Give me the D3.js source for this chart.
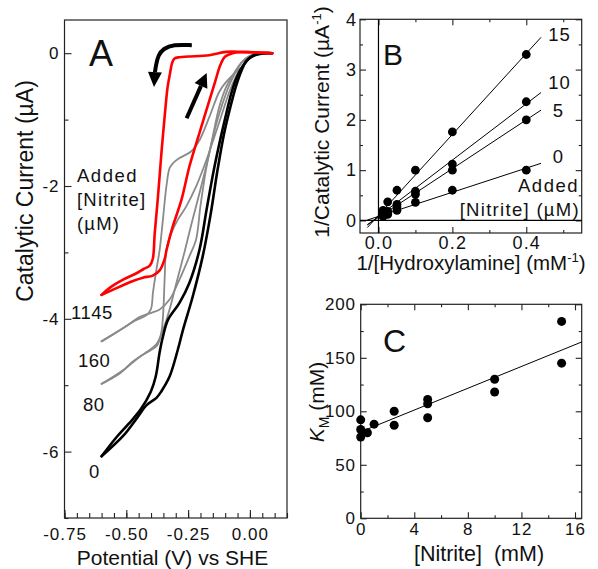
<!DOCTYPE html>
<html>
<head>
<meta charset="utf-8">
<script src="https://cdn.jsdelivr.net/npm/d3@7"></script>
<style>
  body { margin: 0; background: #fff; }
  svg { display: block; font-family: "Liberation Sans", Arial, sans-serif; }
  text { fill: #111; }
</style>
</head>
<body>
<svg id="fig" width="598" height="569"></svg>
<script>
// ---------- Panel A: cyclic voltammograms [potential (V), current (uA)] ----------
const cv0Cathodic = [[0.09,0],[0.04,-0.01],[0.0,-0.07],[-0.03,-0.2],[-0.052,-0.35],[-0.075,-0.6],[-0.095,-0.9],
  [-0.12,-1.3],[-0.146,-1.76],[-0.175,-2.35],[-0.204,-2.96],[-0.245,-3.46],[-0.285,-3.76],[-0.332,-4.02],
  [-0.352,-4.27],[-0.365,-4.5],[-0.381,-4.87],[-0.401,-5.1],[-0.441,-5.36],[-0.49,-5.58],[-0.539,-5.78],[-0.6,-6.07]];
const cv0Anodic = [[-0.6,-6.07],[-0.512,-5.76],[-0.458,-5.5],[-0.418,-5.3],[-0.378,-5.19],[-0.358,-5.09],
  [-0.325,-4.87],[-0.292,-4.47],[-0.271,-4.17],[-0.231,-3.66],[-0.191,-3.06],[-0.16,-2.45],[-0.131,-1.76],
  [-0.105,-1.22],[-0.077,-0.78],[-0.055,-0.48],[-0.035,-0.27],[-0.015,-0.12],[0.01,-0.04],[0.05,0],[0.09,0]];
const cv80Cathodic = [[0.09,0],[0.04,-0.01],[0.0,-0.07],[-0.03,-0.2],[-0.052,-0.32],[-0.08,-0.55],[-0.104,-0.81],
  [-0.125,-1.05],[-0.144,-1.26],[-0.18,-1.65],[-0.218,-2.01],[-0.258,-2.31],[-0.292,-2.51],[-0.318,-2.71],
  [-0.338,-2.96],[-0.345,-3.4],[-0.35,-3.86],[-0.358,-4.2],[-0.375,-4.4],[-0.4,-4.47],[-0.445,-4.57],
  [-0.512,-4.77],[-0.6,-4.98]];
const cv80Anodic = [[-0.6,-4.98],[-0.525,-4.82],[-0.472,-4.64],[-0.418,-4.5],[-0.378,-4.38],[-0.35,-4.15],
  [-0.325,-3.86],[-0.3,-3.5],[-0.265,-3.0],[-0.235,-2.55],[-0.2,-2.05],[-0.17,-1.6],[-0.14,-1.12],
  [-0.11,-0.75],[-0.08,-0.45],[-0.055,-0.27],[-0.03,-0.13],[0.0,-0.04],[0.05,0],[0.09,0]];
const cv160Cathodic = [[0.09,0],[0.04,-0.01],[0.0,-0.07],[-0.03,-0.2],[-0.07,-0.33],[-0.1,-0.45],[-0.124,-0.58],
  [-0.164,-0.96],[-0.204,-1.31],[-0.238,-1.48],[-0.285,-1.58],[-0.312,-1.66],[-0.325,-1.73],[-0.338,-2.01],
  [-0.352,-2.51],[-0.365,-2.96],[-0.38,-3.3],[-0.392,-3.6],[-0.4,-3.85],[-0.417,-3.94],[-0.465,-4.03],
  [-0.525,-4.17],[-0.6,-4.34]];
const cv160Anodic = [[-0.6,-4.34],[-0.512,-4.14],[-0.445,-3.97],[-0.398,-3.91],[-0.365,-3.86],[-0.325,-3.71],
  [-0.285,-3.41],[-0.245,-3.06],[-0.218,-2.81],[-0.2,-2.3],[-0.178,-1.76],[-0.15,-1.25],[-0.124,-0.81],
  [-0.095,-0.5],[-0.064,-0.3],[-0.035,-0.14],[0.0,-0.04],[0.05,0],[0.09,0]];
const cv1145Cathodic = [[0.09,0],[0.05,0.005],[-0.03,0.02],[-0.097,0.02],[-0.164,-0.03],[-0.25,-0.05],
  [-0.285,-0.06],[-0.305,-0.08],[-0.315,-0.15],[-0.323,-0.3],[-0.333,-0.51],[-0.345,-0.96],[-0.357,-1.46],
  [-0.373,-2.21],[-0.385,-2.71],[-0.393,-3.1],[-0.405,-3.2],[-0.43,-3.25],[-0.457,-3.31],[-0.513,-3.41],
  [-0.566,-3.53],[-0.6,-3.64]];
const cv1145Anodic = [[-0.6,-3.64],[-0.553,-3.56],[-0.473,-3.43],[-0.433,-3.38],[-0.393,-3.35],[-0.365,-3.27],
  [-0.345,-3.1],[-0.337,-2.96],[-0.313,-2.62],[-0.277,-2.21],[-0.245,-1.71],[-0.204,-1.2],[-0.172,-0.81],
  [-0.14,-0.42],[-0.12,-0.18],[-0.1,-0.05],[-0.07,0.0],[-0.03,0.015],[0.02,0.015],[0.09,0]];
const nitriteAdded = ["0", "80", "160", "1145"];          // uM
const aXTicks = [-0.75, -0.5, -0.25, 0];
const aYTicks = [0, -2, -4, -6];
const scanArrowCurved = [[-0.235,0.12],[-0.31,0.13],[-0.35,0.07],[-0.371,-0.03],[-0.38,-0.18],[-0.384,-0.28],[-0.388,-0.51]];
const scanArrowStraight = [[-0.256,-0.98],[-0.175,-0.30]];

// ---------- Panel B: double reciprocal plot ----------
const invHydroxylamine = [0.4, 0.2, 0.1, 0.05, 0.025, 0.0125];   // 1/mM
const bNitrite = ["0", "5", "10", "15"];                          // label per series
const invCurrent0  = [1.0, 0.6, 0.36, 0.2, 0.12, 0.08];
const invCurrent5  = [2.0, 1.0, 0.52, 0.27, 0.15, 0.1];
const invCurrent10 = [2.36, 1.12, 0.58, 0.32, 0.18, 0.14];
const invCurrent15 = [3.3, 1.76, 1.0, 0.6, 0.37, 0.2];
const bSlope = [2.4, 4.85, 5.6, 8.05];
const bIntercept = [0.08, 0.06, 0.08, 0.1];
const bXTicks = [0, 0.2, 0.4];
const bYTicks = [0, 1, 2, 3, 4];

// ---------- Panel C: KM vs nitrite ----------
const cNitrite = [0, 0, 0, 0.5, 1, 2.5, 2.5, 5, 5, 5, 10, 10, 15, 15];       // mM
const cKM = [92, 83, 76, 80, 88, 100, 87, 111, 107, 94, 130, 118, 184, 145];  // mM
const cSlope = 5.09, cIntercept = 80.8;
const cXTicks = [0, 4, 8, 12, 16];
const cYTicks = [0, 50, 100, 150, 200];

const SVG = d3.select("#fig");
const INK = "#222";

function frame(x, y) {
  SVG.append("rect")
    .attr("x", x.range()[0]).attr("y", y.range()[1])
    .attr("width", x.range()[1] - x.range()[0]).attr("height", y.range()[0] - y.range()[1])
    .attr("fill", "none").attr("stroke", INK).attr("stroke-width", 1.2);
}

function axis(gen, tr, size, spacing) {
  const g = SVG.append("g").attr("transform", tr).call(gen);
  g.select(".domain").remove();
  g.attr("font-family", null).attr("font-size", null);
  g.selectAll("line").attr("stroke", INK).attr("stroke-width", 1.1);
  g.selectAll("text").style("font-size", size + "px").style("letter-spacing", spacing + "px").attr("fill", "#111");
  return g;
}

function label(x, y, str, size, anchor, spacing) {
  return SVG.append("text").attr("x", x).attr("y", y)
    .attr("text-anchor", anchor || "start")
    .style("font-size", size + "px")
    .style("letter-spacing", (spacing || 0) + "px")
    .text(str);
}

// ===================== Panel A =====================
const xA = d3.scaleLinear().domain([-0.75, 0.15]).range([64.5, 287]);
const yA = d3.scaleLinear().domain([-7, 0.5]).range([518, 20]);
const bottomA = yA.range()[0], leftA = xA.range()[0];

axis(d3.axisBottom(xA).tickValues(d3.range(-15, 4).map(i => i * 0.05)).tickSize(-5).tickFormat(""), `translate(0,${bottomA})`);
axis(d3.axisBottom(xA).tickValues(aXTicks).tickSize(-8).tickPadding(10).tickFormat(d => d.toFixed(2)), `translate(0,${bottomA})`, 17, 1);
axis(d3.axisLeft(yA).tickValues([-7, -5, -3, -1]).tickSize(-4).tickFormat(""), `translate(${leftA},0)`);
axis(d3.axisLeft(yA).tickValues(aYTicks).tickSize(-7).tickPadding(5).tickFormat(d => String(d)), `translate(${leftA},0)`, 17, 1);
frame(xA, yA);

const lineA = d3.line().x(d => xA(d[0])).y(d => yA(d[1])).curve(d3.curveCatmullRom.alpha(0.5));
const cvs = [
  { pts: cv80Cathodic, color: "#8a8a8a", w: 1.8 },
  { pts: cv80Anodic, color: "#8a8a8a", w: 1.8 },
  { pts: cv160Cathodic, color: "#8a8a8a", w: 1.8 },
  { pts: cv160Anodic, color: "#8a8a8a", w: 1.8 },
  { pts: cv0Cathodic, color: "#000", w: 2.6 },
  { pts: cv0Anodic, color: "#000", w: 2.6 },
  { pts: cv1145Cathodic, color: "#ff0000", w: 2.6 },
  { pts: cv1145Anodic, color: "#ff0000", w: 2.6 }
];
SVG.append("g").selectAll("path").data(cvs).join("path")
  .attr("d", d => lineA(d.pts))
  .attr("fill", "none").attr("stroke", d => d.color).attr("stroke-width", d => d.w)
  .attr("stroke-linejoin", "round").attr("stroke-linecap", "round");

// scan direction arrows
function arrow(pts, headLen, headW) {
  const px = pts.map(p => [xA(p[0]), yA(p[1])]);
  const tip = px[px.length - 1], prev = px[px.length - 2];
  const dx = tip[0] - prev[0], dy = tip[1] - prev[1], L = Math.hypot(dx, dy);
  const ux = dx / L, uy = dy / L;
  const base = [tip[0] - ux * headLen, tip[1] - uy * headLen];
  const shaft = px.slice(0, -1).concat([base]);
  SVG.append("path").attr("d", d3.line().curve(d3.curveBasis)(shaft))
    .attr("fill", "none").attr("stroke", "#000").attr("stroke-width", 4);
  SVG.append("path")
    .attr("d", `M${tip[0]},${tip[1]}L${base[0] - uy * headW / 2},${base[1] + ux * headW / 2}L${base[0] + uy * headW / 2},${base[1] - ux * headW / 2}Z`)
    .attr("fill", "#000");
}
arrow(scanArrowCurved, 15, 14);
arrow(scanArrowStraight, 14, 14);

label(89, 66, "A", 36);
label(77, 182, "Added", 18.5, "start", 1.5);
label(77, 206, "[Nitrite]", 18.5, "start", 1.2);
label(77, 230, "(\u00b5M)", 18.5, "start", 1.2);
const curveLabelPos = [[89, 478], [83, 411], [78, 367], [71, 319]];
nitriteAdded.forEach((n, i) => label(curveLabelPos[i][0], curveLabelPos[i][1], n, 18.5, "start", 0.5));
label(172.5, 565, "Potential (V) vs SHE", 21, "middle");
SVG.append("text").attr("transform", "translate(33,191) rotate(-90)").attr("text-anchor", "middle")
  .style("font-size", "23px").text("Catalytic Current (\u00b5A)");

// ===================== Panel B =====================
const xB = d3.scaleLinear().domain([-0.05, 0.55]).range([360, 581.7]);
const yB = d3.scaleLinear().domain([-0.25, 4]).range([233, 19.3]);
const bx0 = xB.range()[0], bx1 = xB.range()[1], by0 = yB.range()[0], by1 = yB.range()[1];

axis(d3.axisBottom(xB).tickValues([0.1, 0.3, 0.5]).tickSize(-3).tickFormat(""), `translate(0,${by0})`);
axis(d3.axisBottom(xB).tickValues(bXTicks).tickSize(-6).tickPadding(3).tickFormat(d => d.toFixed(1)), `translate(0,${by0})`, 18, 1.2);
axis(d3.axisTop(xB).tickValues([0.1, 0.3, 0.5]).tickSize(-3).tickFormat(""), `translate(0,${by1})`);
axis(d3.axisTop(xB).tickValues(bXTicks).tickSize(-6).tickFormat(""), `translate(0,${by1})`);
axis(d3.axisLeft(yB).tickValues([0.5, 1.5, 2.5, 3.5]).tickSize(-3).tickFormat(""), `translate(${bx0},0)`);
axis(d3.axisLeft(yB).tickValues(bYTicks).tickSize(-6).tickPadding(3).tickFormat(d => String(d)), `translate(${bx0},0)`, 18, 1);
axis(d3.axisRight(yB).tickValues([0.5, 1.5, 2.5, 3.5]).tickSize(-3).tickFormat(""), `translate(${bx1},0)`);
axis(d3.axisRight(yB).tickValues(bYTicks).tickSize(-6).tickFormat(""), `translate(${bx1},0)`);
frame(xB, yB);

// zero lines
SVG.append("line").attr("x1", xB(0)).attr("x2", xB(0)).attr("y1", by1).attr("y2", by0).attr("stroke", "#000").attr("stroke-width", 1.2);
SVG.append("line").attr("x1", bx0).attr("x2", bx1).attr("y1", yB(0)).attr("y2", yB(0)).attr("stroke", "#000").attr("stroke-width", 1.2);

const bSeries = [invCurrent0, invCurrent5, invCurrent10, invCurrent15];
bSeries.forEach((ys, i) => {
  const fit = [-0.03, 0.44].map(x => [x, bIntercept[i] + bSlope[i] * x]);
  SVG.append("line")
    .attr("x1", xB(fit[0][0])).attr("y1", yB(fit[0][1]))
    .attr("x2", xB(fit[1][0])).attr("y2", yB(fit[1][1]))
    .attr("stroke", "#000").attr("stroke-width", 1);
});
bSeries.forEach(ys => {
  SVG.append("g").selectAll("circle").data(ys).join("circle")
    .attr("cx", (d, j) => xB(invHydroxylamine[j])).attr("cy", d => yB(d))
    .attr("r", 4.4).attr("fill", "#000");
});
const bLabelPos = [[552.7, 163.3], [552.7, 116.7], [548.3, 89.3], [548.3, 40.7]];
bNitrite.forEach((n, i) => label(bLabelPos[i][0], bLabelPos[i][1], n, 18.5, "start", 1));
label(579, 191.5, "Added", 18.5, "end", 1.5);
label(580, 216, "[Nitrite] (\u00b5M)", 18.5, "end", 1.3);
label(383, 65, "B", 30);

const bxl = SVG.append("text").attr("x", 471).attr("y", 270).attr("text-anchor", "middle").style("font-size", "20.5px");
bxl.append("tspan").text("1/[Hydroxylamine] (mM");
bxl.append("tspan").attr("dy", -8).style("font-size", "13px").text("-1");
bxl.append("tspan").attr("dy", 8).text(")");

const byl = SVG.append("text").attr("transform", "translate(329,122) rotate(-90)").attr("text-anchor", "middle").style("font-size", "21px");
byl.append("tspan").text("1/Catalytic Current (\u00b5A");
byl.append("tspan").attr("dy", -8).style("font-size", "13px").text("-1");
byl.append("tspan").attr("dy", 8).text(")");

// ===================== Panel C =====================
const xC = d3.scaleLinear().domain([0, 16.5]).range([360.7, 581.7]);
const yC = d3.scaleLinear().domain([0, 200]).range([518.3, 304.3]);
const cx0 = xC.range()[0], cx1 = xC.range()[1], cy0 = yC.range()[0], cy1 = yC.range()[1];
const cMinorX = [2, 6, 10, 14], cMinorY = [25, 75, 125, 175];

axis(d3.axisBottom(xC).tickValues(cMinorX).tickSize(-3).tickFormat(""), `translate(0,${cy0})`);
axis(d3.axisBottom(xC).tickValues(cXTicks).tickSize(-6).tickPadding(5).tickFormat(d => String(d)), `translate(0,${cy0})`, 17, 1);
axis(d3.axisTop(xC).tickValues(cMinorX).tickSize(-3).tickFormat(""), `translate(0,${cy1})`);
axis(d3.axisTop(xC).tickValues(cXTicks).tickSize(-6).tickFormat(""), `translate(0,${cy1})`);
axis(d3.axisLeft(yC).tickValues(cMinorY).tickSize(-3).tickFormat(""), `translate(${cx0},0)`);
axis(d3.axisLeft(yC).tickValues(cYTicks).tickSize(-6).tickPadding(5).tickFormat(d => String(d)), `translate(${cx0},0)`, 17, 0.8);
axis(d3.axisRight(yC).tickValues(cMinorY).tickSize(-3).tickFormat(""), `translate(${cx1},0)`);
axis(d3.axisRight(yC).tickValues(cYTicks).tickSize(-6).tickFormat(""), `translate(${cx1},0)`);
frame(xC, yC);

SVG.append("line")
  .attr("x1", xC(0)).attr("y1", yC(cIntercept))
  .attr("x2", xC(16.5)).attr("y2", yC(cIntercept + cSlope * 16.5))
  .attr("stroke", "#000").attr("stroke-width", 1);
SVG.append("g").selectAll("circle").data(cKM).join("circle")
  .attr("cx", (d, i) => xC(cNitrite[i])).attr("cy", d => yC(d))
  .attr("r", 4.5).attr("fill", "#000");

label(383, 352, "C", 32);
label(479, 561, "[Nitrite]  (mM)", 21.5, "middle").style("white-space", "pre");

const cyl = SVG.append("text").attr("transform", "translate(324,402) rotate(-90)").attr("text-anchor", "middle").style("font-size", "21px");
cyl.append("tspan").style("font-style", "italic").text("K");
cyl.append("tspan").attr("dy", 5).style("font-size", "14px").text("M");
cyl.append("tspan").attr("dy", -5).text(" (mM)");
</script>
</body>
</html>
